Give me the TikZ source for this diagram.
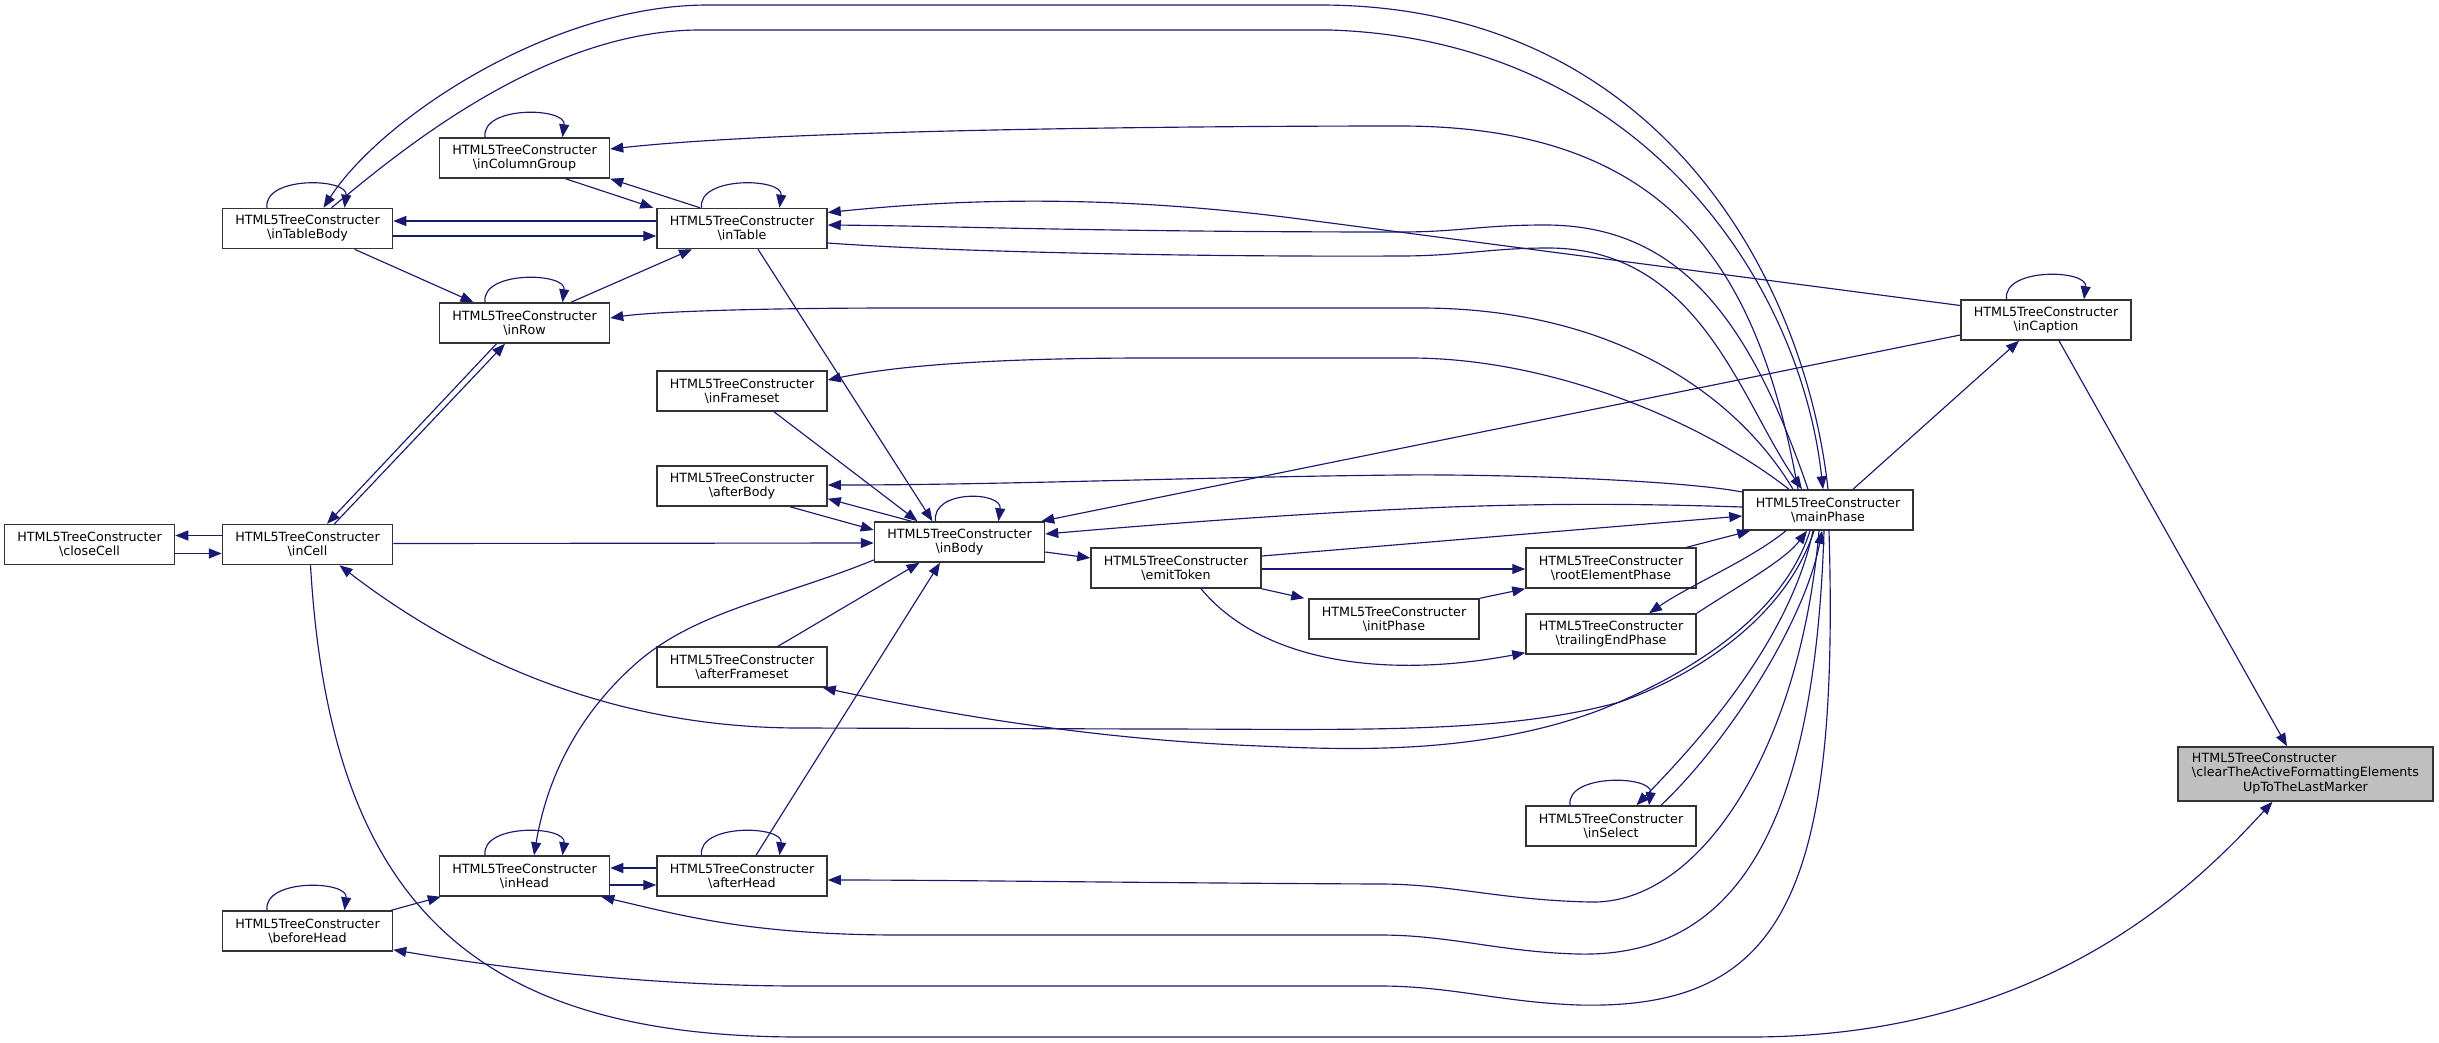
\documentclass[tikz,border=0pt]{standalone}
\usepackage{fontspec}
\setmainfont{DejaVu Sans}
\usetikzlibrary{arrows.meta,calc}
\definecolor{edgec}{HTML}{191970}
\definecolor{boxc}{HTML}{333333}
\definecolor{hlc}{HTML}{BFBFBF}
\begin{document}
\begin{tikzpicture}[x=1pt,y=-1pt,
  fn/.style={draw=boxc, line width=1.5pt, fill=white, minimum width=170pt, minimum height=40pt, inner sep=0pt, align=center, font=\fontsize{12.7}{14.2}\selectfont},
  hl/.style={fn, fill=hlc, minimum width=255pt, minimum height=54pt},
  e/.style={draw=edgec, line width=1.15pt, -{Triangle[length=13pt,width=10pt]}},
  ]
\useasboundingbox[fill=white] (0,0) rectangle (2439,1042);
\newcommand{\hc}{HTML5TreeConstructer\\\textbackslash}
\node[fn] (cc)  at (89.5,544.5) {\hc closeCell};
\node[fn] (ic)  at (307.5,544.5) {\hc inCell};
\node[fn] (itb) at (307.5,228.5) {\hc inTableBody};
\node[fn] (icg) at (524.5,158) {\hc inColumnGroup};
\node[fn] (it)  at (742,228.5) {\hc inTable};
\node[fn] (ir)  at (524.5,323) {\hc inRow};
\node[fn] (ifs) at (742,391) {\hc inFrameset};
\node[fn] (ab)  at (742,486) {\hc afterBody};
\node[fn] (ib)  at (959.5,542) {\hc inBody};
\node[fn] (af)  at (742,667) {\hc afterFrameset};
\node[fn] (ih)  at (524.5,876) {\hc inHead};
\node[fn] (ah)  at (742,876) {\hc afterHead};
\node[fn] (bh)  at (307.5,931) {\hc beforeHead};
\node[fn] (et)  at (1176,568) {\hc emitToken};
\node[fn] (ip)  at (1394,619) {\hc initPhase};
\node[fn] (rep) at (1611,568) {\hc rootElementPhase};
\node[fn] (tep) at (1611,634) {\hc trailingEndPhase};
\node[fn] (is)  at (1611,826) {\hc inSelect};
\node[fn] (mp)  at (1828,510) {\hc mainPhase};
\node[fn] (ica) at (2046,320) {\hc inCaption};
\node[hl] (cl)  at (2305.5,774) {\begin{tabular}{@{}l@{}}HTML5TreeConstructer\\\textbackslash clearTheActiveFormattingElements\\\multicolumn{1}{@{}c@{}}{UpToTheLastMarker}\end{tabular}};

% clear
\draw[e] ($(ica.south)+(13,0)$) -- ($(cl.north)+(-18.5,0)$);
\draw[e] ($(ic.south)+(3,0)$) .. controls (330,900) and (470,1037) .. (800,1037) -- (1750,1037) .. controls (2050,1037) and (2200,880) .. ($(cl.south)+(-33,0)$);
% inCaption
\draw[e] ($(mp.north)+(25,0)$) -- ($(ica.south)+(-27,0)$);
\draw[e] ($(ica.north)+(-39.5,0)$) .. controls +(-4,-32) and +(4,-30) .. ($(ica.north)+(38,0)$);
\draw[e] ($(ica.west)+(0,-14.5)$) -- (1300,219) .. controls (1100,193) and (950,200) .. ($(it.east)+(0,-16)$);
\draw[e] ($(ica.west)+(0,15)$) -- ($(ib.north east)+(-4,0)$);
% mainPhase top arcs
\draw[e] (mp.north) .. controls (1805,280) and (1660,5) .. (1320,5) -- (708,5) .. controls (550,5) and (380,120) .. ($(itb.north)+(16,0)$);
\draw[e] ($(itb.north)+(24,0)$) .. controls (390,160) and (540,30) .. (700,30) -- (1330,30) .. controls (1640,40) and (1800,280) .. ($(mp.north)+(-5,0)$);
\draw[e] ($(mp.north)+(-30,0)$) .. controls (1760,280) and (1680,126) .. (1400,126) .. controls (1250,126) and (800,128) .. ($(icg.east)+(0,-9)$);
\draw[e] ($(mp.north)+(-20,0)$) .. controls (1750,320) and (1680,225) .. (1545,225) .. controls (1480,225) and (1460,232) .. (1400,232) .. controls (1100,232) and (950,226) .. ($(it.east)+(0,-3.5)$);
\draw[e] ($(it.east)+(0,14.5)$) .. controls (950,252) and (1200,257) .. (1400,256) .. controls (1460,256) and (1490,248) .. (1548,248) .. controls (1700,248) and (1740,400) .. ($(mp.north)+(-26,0)$);
\draw[e] ($(mp.north)+(-35,0)$) .. controls (1740,400) and (1620,308) .. (1420,308) -- (900,308) .. controls (750,308) and (650,312) .. ($(ir.east)+(0,-5)$);
\draw[e] ($(mp.north)+(-39,0)$) .. controls (1700,420) and (1550,358) .. (1410,358) -- (1150,358) .. controls (1000,358) and (900,365) .. ($(ifs.east)+(0,-11)$);
% mainPhase left
\draw[e] ($(mp.west)+(0,-18)$) .. controls (1680,480) and (1500,474) .. (1400,475) .. controls (1200,477) and (1000,485) .. ($(ab.east)+(0,-1)$);
\draw[e] ($(mp.west)+(0,-3)$) .. controls (1650,504) and (1560,503) .. (1450,507) .. controls (1300,513) and (1150,525) .. ($(ib.east)+(0,-8)$);
\draw[e] ($(et.east)+(0,-12)$) -- ($(mp.west)+(0,6)$);
\draw[e] ($(rep.north east)+(-10,0)$) -- ($(mp.south west)+(8,0)$);
% mainPhase bottom
\draw[e] ($(mp.south)+(-42,0)$) .. controls (1750,560) and (1690,585) .. ($(tep.north)+(38,0)$);
\draw[e] (tep.north east) .. controls (1740,585) and (1785,560) .. ($(mp.south)+(-21,0)$);
\draw[e] ($(mp.south)+(-15,0)$) .. controls (1790,640) and (1700,740) .. ($(is.north)+(25.5,0)$);
\draw[e] ($(is.north)+(50,0)$) .. controls (1730,740) and (1805,620) .. ($(mp.south)+(-6,0)$);
\draw[e] ($(is.north)+(-41,0)$) .. controls +(-4,-32) and +(4,-30) .. ($(is.north)+(38,0)$);
\draw[e] ($(mp.south)+(-14,0)$) .. controls (1790,605) and (1715,668) .. (1620,702) .. controls (1500,735) and (1350,729) .. (1150,729) -- (800,728) .. controls (600,728) and (450,650) .. ($(ic.south)+(32,0)$);
\draw[e] ($(mp.south)+(-18,0)$) .. controls (1785,610) and (1700,670) .. (1600,710) .. controls (1480,755) and (1350,750) .. (1260,746) .. controls (1100,740) and (950,715) .. ($(af.south east)+(-5,0)$);
\draw[e] ($(mp.south)+(-9,0)$) .. controls (1800,750) and (1700,905) .. (1590,902) .. controls (1500,900) and (1450,884) .. (1380,884) .. controls (1150,883) and (950,880) .. ($(ah.east)+(0,4)$);
\draw[e] ($(mp.south)+(-4,0)$) .. controls (1815,820) and (1740,958) .. (1578,954) .. controls (1500,952) and (1450,935) .. (1380,935) -- (900,935) .. controls (750,935) and (680,915) .. ($(ih.south east)+(-9,0)$);
\draw[e] ($(mp.south)+(1,0)$) .. controls (1840,900) and (1780,1010) .. (1578,1005) .. controls (1500,1002) and (1450,986) .. (1380,986) -- (800,986) .. controls (650,986) and (500,968) .. ($(bh.south east)+(0,-2)$);
% inBody
\draw[e] ($(ib.west)+(0,18)$) .. controls (780,598) and (700,610) .. (640,660) .. controls (570,720) and (545,790) .. ($(ih.north)+(9.5,0)$);
\draw[e] ($(ah.north)+(14,0)$) -- ($(ib.south)+(-19.5,0)$);
\draw[e] ($(af.north)+(36,0)$) -- ($(ib.south)+(-40,0)$);
\draw[e] ($(ifs.south)+(32,0)$) -- ($(ib.north)+(-42,0)$);
\draw[e] ($(it.south)+(16,0)$) -- ($(ib.north)+(-27,0)$);
\draw[e] ($(ab.south)+(48,0)$) -- ($(ib.west)+(0,-12)$);
\draw[e] ($(ib.north)+(-48,0)$) -- ($(ab.south east)+(0,-8)$);
\draw[e] ($(ib.north)+(-24,0)$) .. controls +(-4,-32) and +(4,-30) .. ($(ib.north)+(39,0)$);
\draw[e] ($(ic.east)+(0,-1)$) -- ($(ib.west)+(0,1)$);
\draw[e] ($(ib.east)+(0,10)$) -- ($(et.west)+(0,-10)$);
% emitToken
\draw[e] ($(et.east)+(0,1)$) -- ($(rep.west)+(0,1)$);
\draw[e] (et.south east) -- ($(ip.north west)+(-4,0)$);
\draw[e] (ip.north east) -- (rep.south west);
\draw[e] ($(et.south)+(25,0)$) .. controls (1260,660) and (1380,680) .. ($(tep.south west)+(0,-2)$);
% head group
\draw[e] ($(ih.north)+(-39.5,0)$) .. controls +(-4,-32) and +(4,-30) .. ($(ih.north)+(38,0)$);
\draw[e] ($(ah.north)+(-40.5,0)$) .. controls +(-4,-32) and +(4,-30) .. ($(ah.north)+(37.5,0)$);
\draw[e] ($(ah.west)+(0,-8)$) -- ($(ih.east)+(0,-8)$);
\draw[e] ($(ih.east)+(0,9)$) -- ($(ah.west)+(0,9)$);
\draw[e] ($(bh.north east)+(-2,0)$) -- ($(ih.south west)+(2,0)$);
\draw[e] ($(bh.north)+(-40.5,0)$) .. controls +(-4,-32) and +(4,-30) .. ($(bh.north)+(37,0)$);
% cell group
\draw[e] ($(ic.west)+(0,-9)$) -- ($(cc.east)+(0,-9)$);
\draw[e] ($(cc.east)+(0,9)$) -- ($(ic.west)+(0,9)$);
\draw[e] ($(ir.south)+(-28,0)$) -- ($(ic.north)+(19.5,0)$);
\draw[e] ($(ic.north)+(27,0)$) -- ($(ir.south)+(-19.5,0)$);
% table group
\draw[e] ($(itb.south)+(47,0)$) -- ($(ir.north)+(-51,0)$);
\draw[e] ($(ir.north)+(46.5,0)$) -- ($(it.south)+(-50,0)$);
\draw[e] ($(ir.north)+(-39.5,0)$) .. controls +(-4,-32) and +(4,-30) .. ($(ir.north)+(38,0)$);
\draw[e] ($(it.west)+(0,-7.5)$) -- ($(itb.east)+(0,-7.5)$);
\draw[e] ($(itb.east)+(0,7.5)$) -- ($(it.west)+(0,7.5)$);
\draw[e] ($(icg.south)+(41,0)$) -- ($(it.north west)+(-3,0)$);
\draw[e] ($(it.north)+(-42,0)$) -- (icg.south east);
\draw[e] ($(it.north)+(-40.5,0)$) .. controls +(-4,-32) and +(4,-30) .. ($(it.north)+(37.5,0)$);
\draw[e] ($(icg.north)+(-39.5,0)$) .. controls +(-4,-32) and +(4,-30) .. ($(icg.north)+(38,0)$);
\draw[e] ($(itb.north)+(-40.5,0)$) .. controls +(-4,-32) and +(4,-30) .. ($(itb.north)+(37,0)$);
\end{tikzpicture}
\end{document}
